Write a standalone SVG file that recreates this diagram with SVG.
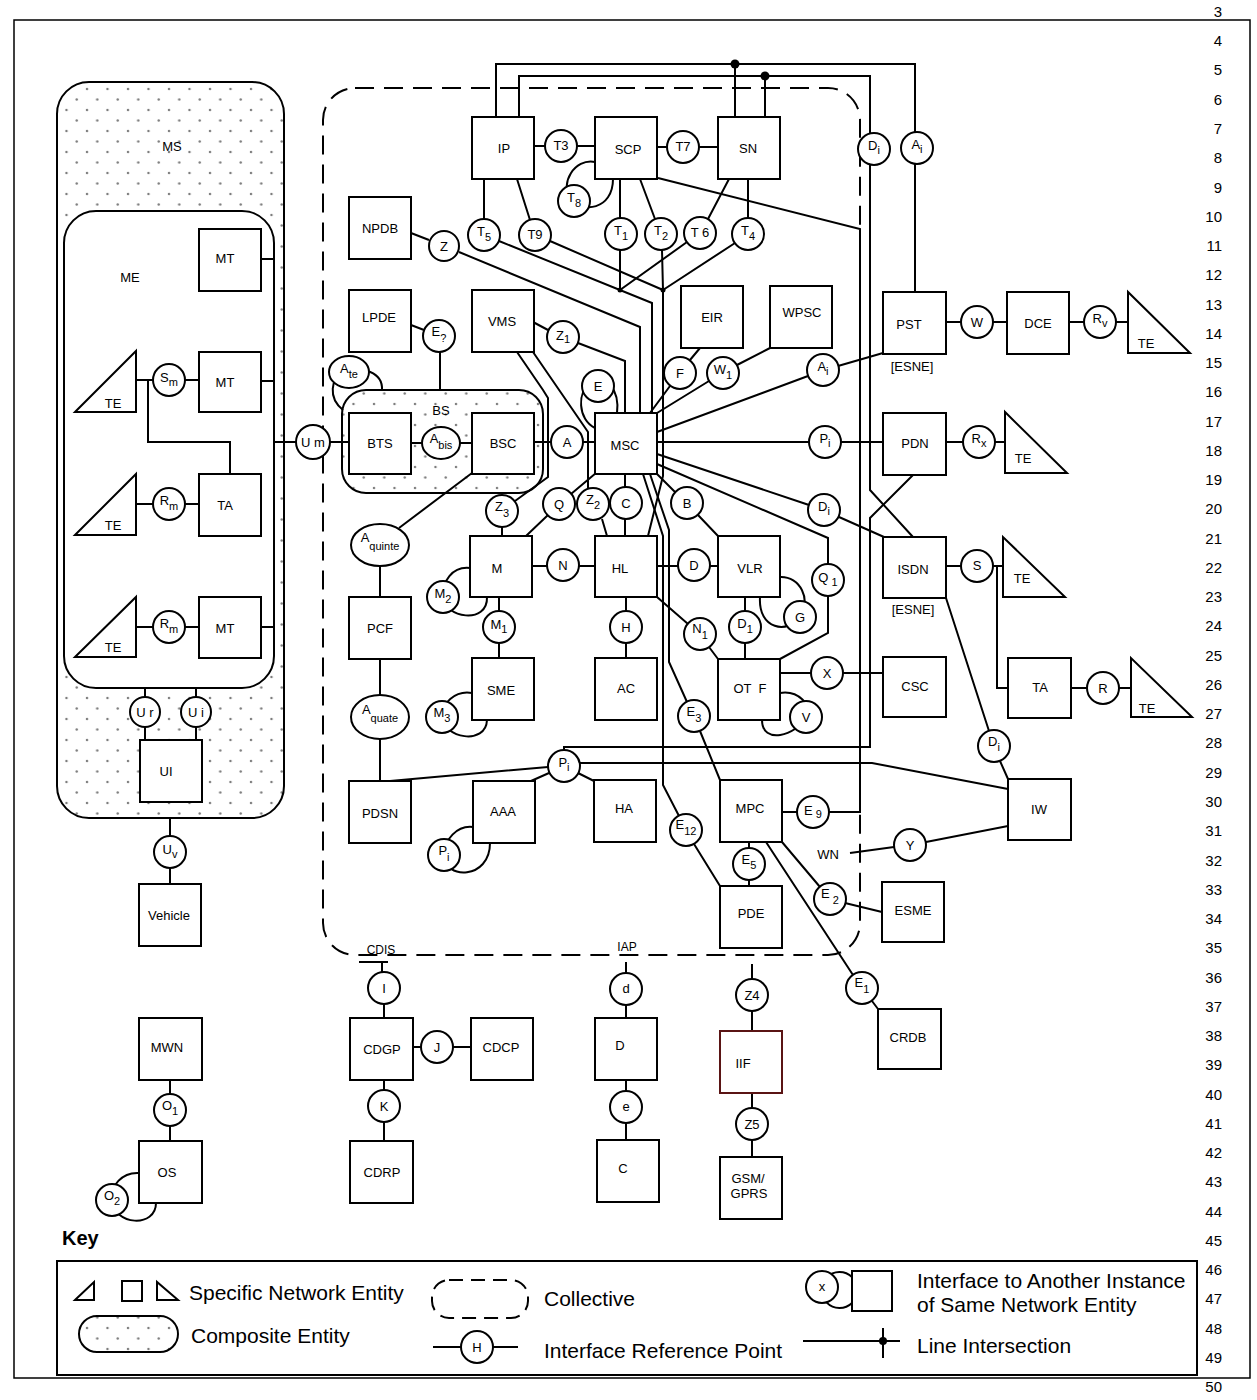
<svg xmlns="http://www.w3.org/2000/svg" width="1257" height="1400" viewBox="0 0 1257 1400">
<defs>
<pattern id="dots" width="20.5" height="21" patternUnits="userSpaceOnUse">
<circle cx="5" cy="5" r="1.2" fill="#7a7a7a"/>
<circle cx="15.25" cy="15.5" r="1.2" fill="#7a7a7a"/>
</pattern>
</defs>
<style>
.b{fill:#fff;stroke:#000;stroke-width:2}
.l{fill:none;stroke:#000;stroke-width:2}
.cmp{fill:url(#dots);stroke:#000;stroke-width:2}
.dash{fill:none;stroke:#000;stroke-width:2;stroke-dasharray:19 10}
text{font-family:"Liberation Sans",Arial,Helvetica,sans-serif;font-size:13px;fill:#000}
.t{text-anchor:middle}
.s{font-size:11px}
.sm{font-size:12px}
.n{font-size:15px;text-anchor:end}
.k{font-size:21px}
.key{font-size:20px;font-weight:bold}
</style>
<rect width="1257" height="1400" fill="#fff"/>
<rect x="14" y="20" width="1236" height="1358" fill="none" stroke="#000" stroke-width="1.5"/>
<g id="line-numbers">
<text class="n" x="1222" y="17">3</text><text class="n" x="1222" y="46">4</text><text class="n" x="1222" y="75">5</text><text class="n" x="1222" y="105">6</text><text class="n" x="1222" y="134">7</text><text class="n" x="1222" y="163">8</text><text class="n" x="1222" y="193">9</text><text class="n" x="1222" y="222">10</text><text class="n" x="1222" y="251">11</text><text class="n" x="1222" y="280">12</text><text class="n" x="1222" y="310">13</text><text class="n" x="1222" y="339">14</text><text class="n" x="1222" y="368">15</text><text class="n" x="1222" y="397">16</text><text class="n" x="1222" y="427">17</text><text class="n" x="1222" y="456">18</text><text class="n" x="1222" y="485">19</text><text class="n" x="1222" y="514">20</text><text class="n" x="1222" y="544">21</text><text class="n" x="1222" y="573">22</text><text class="n" x="1222" y="602">23</text><text class="n" x="1222" y="631">24</text><text class="n" x="1222" y="661">25</text><text class="n" x="1222" y="690">26</text><text class="n" x="1222" y="719">27</text><text class="n" x="1222" y="748">28</text><text class="n" x="1222" y="778">29</text><text class="n" x="1222" y="807">30</text><text class="n" x="1222" y="836">31</text><text class="n" x="1222" y="866">32</text><text class="n" x="1222" y="895">33</text><text class="n" x="1222" y="924">34</text><text class="n" x="1222" y="953">35</text><text class="n" x="1222" y="983">36</text><text class="n" x="1222" y="1012">37</text><text class="n" x="1222" y="1041">38</text><text class="n" x="1222" y="1070">39</text><text class="n" x="1222" y="1100">40</text><text class="n" x="1222" y="1129">41</text><text class="n" x="1222" y="1158">42</text><text class="n" x="1222" y="1187">43</text><text class="n" x="1222" y="1217">44</text><text class="n" x="1222" y="1246">45</text><text class="n" x="1222" y="1275">46</text><text class="n" x="1222" y="1304">47</text><text class="n" x="1222" y="1334">48</text><text class="n" x="1222" y="1363">49</text><text class="n" x="1222" y="1392">50</text>
</g>
<g id="collective">
<rect x="323" y="88" width="537" height="867" rx="32" class="dash"/>
<text class="t sm" x="381" y="954">CDIS</text>
<text class="t sm" x="627" y="951">IAP</text>
</g>
<g id="MS">
<rect x="57" y="82" width="227" height="736" rx="32" class="cmp"/>
<text class="t" x="172" y="151">MS</text>
</g>
<g id="ME">
<rect x="64" y="211" width="210" height="477" rx="32" class="b"/>
<text class="t" x="130" y="282">ME</text>
</g>
<g id="BS">
<rect x="342" y="390" width="201" height="103" rx="24" class="cmp"/>
<text class="t" x="441" y="415">BS</text>
</g>
<g id="connectors" class="l">
<path d="M261,259 H274 M261,381 H274 M261,627 H274"/>
<path d="M136,380 H153 M185,380 H199 M148,380 V442 H230 V474"/>
<path d="M136,504 H153 M185,504 H199 M136,627 H153 M185,627 H199"/>
<path d="M145,688 V697 M145,727 V740 M196,688 V697 M196,727 V740"/>
<path d="M170,818 V836 M170,868 V884"/>
<path d="M274,442 H296 M330,442 H349"/>
<path d="M496,117 V64 H915 V132 M915,164 V292"/>
<path d="M519,117 V76 H870 V134 M870,165 V490 L913,537"/>
<path d="M735,117 V64 M765,117 V76"/>
<path d="M535,146 H545 M577,146 H595 M658,147 H667 M699,147 H718"/>
<path d="M595,162 C574,158 560,184 570,198 C582,214 613,210 613,179"/>
<path d="M484,179 V219 M499,241 L652,303 V413"/>
<path d="M517,179 L530,220 M550,241 L663,290 V476 L648,536"/>
<path d="M620,179 V218 M620,250 V290"/>
<path d="M640,179 L655,219 M662,250 L663,290"/>
<path d="M729,179 L708,219 M687,242 L620,290"/>
<path d="M748,179 V218 M735,243 L663,290"/>
<path d="M658,178 L860,229 V812 H829 M782,812 H797"/>
<path d="M411,233 L429,240 M459,252 L640,327 V413"/>
<path d="M533,322 L548,330 M578,343 L625,361 V413"/>
<path d="M411,325 L424,330 M440,352 V390"/>
<path d="M517,352 L543,390 L548,398 V477 L515,501 M502,527 V536"/>
<path d="M533,352 L588,432 V489 M602,519 L607,536"/>
<path d="M595,428 C578,420 576,392 592,380 C605,372 620,390 617,413"/>
<path d="M533,442 H551 M583,442 H595 M411,443 H422 M460,443 H472"/>
<path d="M343,410 C328,398 330,378 345,372 C362,366 383,372 382,390"/>
<path d="M700,348 L690,360 M670,386 L650,413"/>
<path d="M770,348 L737,365 M709,381 L657,413"/>
<path d="M657,432 L808,376 M838,366 L883,353"/>
<path d="M657,442 H809 M841,442 H883"/>
<path d="M657,454 L809,505 M839,517 L884,537"/>
<path d="M657,464 L828,538 V564 M828,596 V633 L780,659"/>
<path d="M596,473 L571,494 M548,515 L526,536"/>
<path d="M625,474 V487 M625,519 V536"/>
<path d="M657,474 L675,492 M698,515 L718,536"/>
<path d="M643,474 L663,536 V785 L679,816 M694,844 L720,886"/>
<path d="M650,474 L669,530 V662 L687,702 M700,731 L720,780"/>
<path d="M946,322 H961 M993,322 H1007 M1069,322 H1084 M1116,322 H1128"/>
<path d="M946,442 H963 M995,442 H1005"/>
<path d="M946,566 H961 M993,566 H1003 M997,566 V688 H1008 M1071,688 H1087 M1119,688 H1131"/>
<path d="M913,475 L870,518 V747 H564 V750"/>
<path d="M580,763 H872 L1008,789"/>
<path d="M390,781 L548,767 M549,773 L531,781 M578,773 L594,781"/>
<path d="M472,473 L399,528 M380,566 V597 M380,659 V695 M380,739 V781"/>
<path d="M532,566 H547 M579,566 H595 M657,566 H678 M710,566 H718"/>
<path d="M626,597 V611 M626,643 V658 M499,597 V611 M499,643 V658"/>
<path d="M657,597 L688,624 M709,647 L718,659 M745,597 V611 M745,643 V659"/>
<path d="M780,673 H811 M843,673 H883"/>
<path d="M470,568 C452,566 442,582 443,597 C444,618 488,625 487,597"/>
<path d="M472,693 C455,690 441,704 442,717 C443,738 486,746 487,720"/>
<path d="M780,577 C800,576 812,600 800,617 C788,634 758,630 760,597"/>
<path d="M780,693 C798,690 814,706 806,717 C796,736 762,745 762,720"/>
<path d="M473,827 C457,825 444,840 444,855 C444,880 490,880 490,843"/>
<path d="M749,842 V848 M749,880 V886"/>
<path d="M782,842 L820,887 M845,903 L882,912"/>
<path d="M766,842 L853,975 M872,1001 L878,1009"/>
<path d="M850,853 L894,847 M926,842 L1008,826"/>
<path d="M946,598 L989,731 M1000,761 L1008,779"/>
<path d="M359,962 H388 M382,962 V972 M384,1004 V1018"/>
<path d="M413,1047 H421 M453,1047 H471 M384,1080 V1090 M384,1122 V1141"/>
<path d="M626,962 V973 M626,1005 V1018 M626,1080 V1091 M626,1123 V1140"/>
<path d="M752,964 V979 M752,1011 V1031 M752,1093 V1108 M752,1140 V1157"/>
<path d="M170,1080 V1094 M170,1126 V1141"/>
<path d="M139,1173 C122,1172 110,1186 112,1200 C114,1226 156,1228 156,1203"/>
<circle cx="735" cy="64" r="4.5" fill="#000" stroke="none"/>
<circle cx="765" cy="76" r="4.5" fill="#000" stroke="none"/>
<circle cx="620" cy="290" r="2.5" fill="#000" stroke="none"/>
<circle cx="663" cy="290" r="2.5" fill="#000" stroke="none"/>
</g>
<g id="MT1"><rect class="b" x="199" y="229" width="62" height="62"/><text class="t" x="225" y="263">MT</text></g>
<g id="TE1"><polygon class="b" points="75,412 136,351 136,412"/><text class="t" x="113" y="408">TE</text></g>
<g id="MT2"><rect class="b" x="199" y="352" width="62" height="60"/><text class="t" x="225" y="387">MT</text></g>
<g id="TE2"><polygon class="b" points="75,535 136,474 136,535"/><text class="t" x="113" y="530">TE</text></g>
<g id="TA1"><rect class="b" x="199" y="474" width="62" height="62"/><text class="t" x="225" y="510">TA</text></g>
<g id="TE3"><polygon class="b" points="75,657 136,597 136,657"/><text class="t" x="113" y="652">TE</text></g>
<g id="MT3"><rect class="b" x="199" y="597" width="62" height="61"/><text class="t" x="225" y="633">MT</text></g>
<g id="UI"><rect class="b" x="140" y="740" width="62" height="62"/><text class="t" x="166" y="776">UI</text></g>
<g id="Vehicle"><rect class="b" x="139" y="884" width="62" height="62"/><text class="t" x="169" y="920">Vehicle</text></g>
<g id="IP"><rect class="b" x="472" y="117" width="62" height="62"/><text class="t" x="504" y="153">IP</text></g>
<g id="SCP"><rect class="b" x="595" y="117" width="62" height="62"/><text class="t" x="628" y="154">SCP</text></g>
<g id="SN"><rect class="b" x="718" y="117" width="62" height="62"/><text class="t" x="748" y="153">SN</text></g>
<g id="NPDB"><rect class="b" x="349" y="197" width="62" height="62"/><text class="t" x="380" y="233">NPDB</text></g>
<g id="LPDE"><rect class="b" x="349" y="290" width="62" height="62"/><text class="t" x="379" y="322">LPDE</text></g>
<g id="VMS"><rect class="b" x="472" y="290" width="62" height="62"/><text class="t" x="502" y="326">VMS</text></g>
<g id="EIR"><rect class="b" x="681" y="286" width="62" height="62"/><text class="t" x="712" y="322">EIR</text></g>
<g id="WPSC"><rect class="b" x="770" y="286" width="62" height="62"/><text class="t" x="802" y="317">WPSC</text></g>
<g id="PST"><rect class="b" x="883" y="292" width="63" height="62"/><text class="t" x="909" y="329">PST</text><text class="t" x="912" y="371">[ESNE]</text></g>
<g id="DCE"><rect class="b" x="1007" y="292" width="62" height="62"/><text class="t" x="1038" y="328">DCE</text></g>
<g id="TE4"><polygon class="b" points="1128,292 1128,353 1190,353"/><text class="t" x="1146" y="348">TE</text></g>
<g id="BTS"><rect class="b" x="349" y="413" width="62" height="61"/><text class="t" x="380" y="448">BTS</text></g>
<g id="BSC"><rect class="b" x="472" y="413" width="62" height="61"/><text class="t" x="503" y="448">BSC</text></g>
<g id="MSC"><rect class="b" x="595" y="413" width="62" height="61"/><text class="t" x="625" y="450">MSC</text></g>
<g id="PDN"><rect class="b" x="883" y="413" width="63" height="62"/><text class="t" x="915" y="448">PDN</text></g>
<g id="TE5"><polygon class="b" points="1005,412 1005,473 1067,473"/><text class="t" x="1023" y="463">TE</text></g>
<g id="M"><rect class="b" x="470" y="536" width="62" height="61"/><text class="t" x="497" y="573">M</text></g>
<g id="HL"><rect class="b" x="595" y="536" width="62" height="61"/><text class="t" x="620" y="573">HL</text></g>
<g id="VLR"><rect class="b" x="718" y="536" width="62" height="61"/><text class="t" x="750" y="573">VLR</text></g>
<g id="ISDN"><rect class="b" x="883" y="537" width="63" height="61"/><text class="t" x="913" y="574">ISDN</text><text class="t" x="913" y="614">[ESNE]</text></g>
<g id="TE6"><polygon class="b" points="1003,537 1003,597 1065,597"/><text class="t" x="1022" y="583">TE</text></g>
<g id="PCF"><rect class="b" x="349" y="597" width="62" height="62"/><text class="t" x="380" y="633">PCF</text></g>
<g id="SME"><rect class="b" x="472" y="658" width="62" height="62"/><text class="t" x="501" y="695">SME</text></g>
<g id="AC"><rect class="b" x="595" y="658" width="62" height="62"/><text class="t" x="626" y="693">AC</text></g>
<g id="OTF"><rect class="b" x="718" y="659" width="62" height="61"/><text class="t" x="750" y="693" xml:space="preserve">OT  F</text></g>
<g id="CSC"><rect class="b" x="883" y="657" width="63" height="60"/><text class="t" x="915" y="691">CSC</text></g>
<g id="TA2"><rect class="b" x="1008" y="658" width="63" height="60"/><text class="t" x="1040" y="692">TA</text></g>
<g id="TE7"><polygon class="b" points="1131,658 1131,717 1192,717"/><text class="t" x="1147" y="713">TE</text></g>
<g id="PDSN"><rect class="b" x="349" y="781" width="62" height="62"/><text class="t" x="380" y="818">PDSN</text></g>
<g id="AAA"><rect class="b" x="473" y="781" width="62" height="62"/><text class="t" x="503" y="816">AAA</text></g>
<g id="HA"><rect class="b" x="594" y="780" width="62" height="62"/><text class="t" x="624" y="813">HA</text></g>
<g id="MPC"><rect class="b" x="720" y="780" width="62" height="62"/><text class="t" x="750" y="813">MPC</text></g>
<g id="IW"><rect class="b" x="1008" y="779" width="63" height="61"/><text class="t" x="1039" y="814">IW</text></g>
<g id="WN"><text class="t" x="828" y="859">WN</text></g>
<g id="ESME"><rect class="b" x="882" y="882" width="62" height="60"/><text class="t" x="913" y="915">ESME</text></g>
<g id="PDE"><rect class="b" x="720" y="886" width="62" height="62"/><text class="t" x="751" y="918">PDE</text></g>
<g id="MWN"><rect class="b" x="139" y="1018" width="63" height="62"/><text class="t" x="167" y="1052">MWN</text></g>
<g id="CDGP"><rect class="b" x="350" y="1018" width="63" height="62"/><text class="t" x="382" y="1054">CDGP</text></g>
<g id="CDCP"><rect class="b" x="471" y="1018" width="62" height="62"/><text class="t" x="501" y="1052">CDCP</text></g>
<g id="D-node"><rect class="b" x="595" y="1018" width="62" height="62"/><text class="t" x="620" y="1050">D</text></g>
<g id="IIF"><rect x="720" y="1031" width="62" height="62" fill="#fff" stroke="#5a1414" stroke-width="2"/><text class="t" x="743" y="1068">IIF</text></g>
<g id="CRDB"><rect class="b" x="878" y="1009" width="63" height="60"/><text class="t" x="908" y="1042">CRDB</text></g>
<g id="OS"><rect class="b" x="139" y="1141" width="63" height="62"/><text class="t" x="167" y="1177">OS</text></g>
<g id="CDRP"><rect class="b" x="350" y="1141" width="63" height="62"/><text class="t" x="382" y="1177">CDRP</text></g>
<g id="C-node"><rect class="b" x="597" y="1140" width="62" height="62"/><text class="t" x="623" y="1173">C</text></g>
<g id="GSM-GPRS"><rect class="b" x="720" y="1157" width="62" height="62"/><text class="t" x="748" y="1183">GSM/</text><text class="t" x="749" y="1198">GPRS</text></g>
<g id="if-Um"><circle class="b" cx="313" cy="442" r="17"/><text class="t" x="313" y="447">U m</text></g>
<g id="if-Sm"><circle class="b" cx="169" cy="380" r="16"/><text class="t" x="169" y="382">S<tspan class="s" dy="4">m</tspan></text></g>
<g id="if-Rm1"><circle class="b" cx="169" cy="504" r="16"/><text class="t" x="169" y="505">R<tspan class="s" dy="5">m</tspan></text></g>
<g id="if-Rm2"><circle class="b" cx="169" cy="627" r="16"/><text class="t" x="169" y="628">R<tspan class="s" dy="5">m</tspan></text></g>
<g id="if-Ur"><circle class="b" cx="145" cy="712" r="15"/><text class="t" x="145" y="717">U r</text></g>
<g id="if-Ui"><circle class="b" cx="196" cy="712" r="15"/><text class="t" x="196" y="717">U i</text></g>
<g id="if-Uv"><circle class="b" cx="170" cy="852" r="16"/><text class="t" x="170" y="854">U<tspan class="s" dy="4">v</tspan></text></g>
<g id="if-T3"><circle class="b" cx="561" cy="146" r="16"/><text class="t" x="561" y="150">T3</text></g>
<g id="if-T7"><circle class="b" cx="683" cy="147" r="16"/><text class="t" x="683" y="151">T7</text></g>
<g id="if-T8"><circle class="b" cx="574" cy="201" r="16"/><text class="t" x="574" y="202">T<tspan class="s" dy="5">8</tspan></text></g>
<g id="if-T5"><circle class="b" cx="484" cy="235" r="16"/><text class="t" x="484" y="236">T<tspan class="s" dy="5">5</tspan></text></g>
<g id="if-T9"><circle class="b" cx="535" cy="235" r="16"/><text class="t" x="535" y="239">T9</text></g>
<g id="if-T1"><circle class="b" cx="621" cy="234" r="16"/><text class="t" x="621" y="235">T<tspan class="s" dy="5">1</tspan></text></g>
<g id="if-T2"><circle class="b" cx="661" cy="234" r="16"/><text class="t" x="661" y="235">T<tspan class="s" dy="5">2</tspan></text></g>
<g id="if-T6"><circle class="b" cx="700" cy="233" r="16"/><text class="t" x="700" y="237">T 6</text></g>
<g id="if-T4"><circle class="b" cx="748" cy="234" r="16"/><text class="t" x="748" y="235">T<tspan class="s" dy="5">4</tspan></text></g>
<g id="if-Di1"><circle class="b" cx="874" cy="149" r="16"/><text class="t" x="874" y="150">D<tspan class="s" dy="4">i</tspan></text></g>
<g id="if-Ai1"><circle class="b" cx="917" cy="148" r="16"/><text class="t" x="917" y="149">A<tspan class="s" dy="4">i</tspan></text></g>
<g id="if-Z"><circle class="b" cx="444" cy="246" r="15"/><text class="t" x="444" y="251">Z</text></g>
<g id="if-Eq"><circle class="b" cx="439" cy="336" r="16"/><text class="t" x="439" y="336">E<tspan class="s" dy="6">?</tspan></text></g>
<g id="if-Z1"><circle class="b" cx="563" cy="337" r="16"/><text class="t" x="563" y="340">Z<tspan class="s" dy="3">1</tspan></text></g>
<g id="if-Ate"><ellipse class="b" cx="349" cy="372" rx="20" ry="16"/><text class="t" x="349" y="373">A<tspan class="s" dy="5">te</tspan></text></g>
<g id="if-Abis"><ellipse class="b" cx="441" cy="443" rx="19" ry="16"/><text class="t" x="441" y="443">A<tspan class="s" dy="6">bis</tspan></text></g>
<g id="if-A"><circle class="b" cx="567" cy="442" r="16"/><text class="t" x="567" y="447">A</text></g>
<g id="if-E"><circle class="b" cx="598" cy="386" r="16"/><text class="t" x="598" y="391">E</text></g>
<g id="if-F"><circle class="b" cx="680" cy="373" r="16"/><text class="t" x="680" y="378">F</text></g>
<g id="if-W1"><circle class="b" cx="723" cy="373" r="16"/><text class="t" x="723" y="374">W<tspan class="s" dy="5">1</tspan></text></g>
<g id="if-Ai2"><circle class="b" cx="823" cy="370" r="16"/><text class="t" x="823" y="371">A<tspan class="s" dy="4">i</tspan></text></g>
<g id="if-Pi1"><circle class="b" cx="825" cy="442" r="16"/><text class="t" x="825" y="443">P<tspan class="s" dy="4">i</tspan></text></g>
<g id="if-Di2"><circle class="b" cx="824" cy="510" r="16"/><text class="t" x="824" y="511">D<tspan class="s" dy="4">i</tspan></text></g>
<g id="if-Q1"><circle class="b" cx="828" cy="580" r="16"/><text class="t" x="828" y="582" xml:space="preserve">Q<tspan class="s" dy="4"> 1</tspan></text></g>
<g id="if-Z3"><circle class="b" cx="502" cy="511" r="16"/><text class="t" x="502" y="511">Z<tspan class="s" dy="6">3</tspan></text></g>
<g id="if-Q"><circle class="b" cx="559" cy="504" r="16"/><text class="t" x="559" y="509">Q</text></g>
<g id="if-Z2"><circle class="b" cx="593" cy="504" r="16"/><text class="t" x="593" y="504">Z<tspan class="s" dy="5">2</tspan></text></g>
<g id="if-C"><circle class="b" cx="626" cy="503" r="16"/><text class="t" x="626" y="508">C</text></g>
<g id="if-B"><circle class="b" cx="687" cy="503" r="16"/><text class="t" x="687" y="508">B</text></g>
<g id="if-N"><circle class="b" cx="563" cy="565" r="16"/><text class="t" x="563" y="570">N</text></g>
<g id="if-D"><circle class="b" cx="694" cy="565" r="16"/><text class="t" x="694" y="570">D</text></g>
<g id="if-M2"><circle class="b" cx="443" cy="597" r="16"/><text class="t" x="443" y="598">M<tspan class="s" dy="5">2</tspan></text></g>
<g id="if-M1"><circle class="b" cx="499" cy="627" r="16"/><text class="t" x="499" y="629">M<tspan class="s" dy="4">1</tspan></text></g>
<g id="if-H"><circle class="b" cx="626" cy="627" r="16"/><text class="t" x="626" y="632">H</text></g>
<g id="if-N1"><circle class="b" cx="700" cy="634" r="16"/><text class="t" x="700" y="633">N<tspan class="s" dy="6">1</tspan></text></g>
<g id="if-D1"><circle class="b" cx="745" cy="627" r="16"/><text class="t" x="745" y="628">D<tspan class="s" dy="5">1</tspan></text></g>
<g id="if-G"><circle class="b" cx="800" cy="617" r="16"/><text class="t" x="800" y="622">G</text></g>
<g id="if-X"><circle class="b" cx="827" cy="673" r="16"/><text class="t" x="827" y="678">X</text></g>
<g id="if-V"><circle class="b" cx="806" cy="717" r="16"/><text class="t" x="806" y="722">V</text></g>
<g id="if-M3"><circle class="b" cx="442" cy="717" r="16"/><text class="t" x="442" y="717">M<tspan class="s" dy="5">3</tspan></text></g>
<g id="if-E3"><circle class="b" cx="694" cy="716" r="16"/><text class="t" x="694" y="716">E<tspan class="s" dy="6">3</tspan></text></g>
<g id="if-Aquinte"><ellipse class="b" cx="380" cy="545" rx="29" ry="21"/><text class="t" x="380" y="542">A<tspan class="s" dy="8">quinte</tspan></text></g>
<g id="if-Aquate"><ellipse class="b" cx="380" cy="717" rx="29" ry="22"/><text class="t" x="380" y="714">A<tspan class="s" dy="8">quate</tspan></text></g>
<g id="if-Pi2"><circle class="b" cx="564" cy="766" r="16"/><text class="t" x="564" y="767">P<tspan class="s" dy="4">i</tspan></text></g>
<g id="if-Pi3"><circle class="b" cx="444" cy="855" r="16"/><text class="t" x="444" y="855">P<tspan class="s" dy="6">i</tspan></text></g>
<g id="if-E12"><circle class="b" cx="686" cy="830" r="16"/><text class="t" x="686" y="829">E<tspan class="s" dy="6">12</tspan></text></g>
<g id="if-E9"><circle class="b" cx="813" cy="812" r="16"/><text class="t" x="813" y="815" xml:space="preserve">E<tspan class="s" dy="3"> 9</tspan></text></g>
<g id="if-E5"><circle class="b" cx="749" cy="864" r="16"/><text class="t" x="749" y="864">E<tspan class="s" dy="5">5</tspan></text></g>
<g id="if-Y"><circle class="b" cx="910" cy="845" r="16"/><text class="t" x="910" y="850">Y</text></g>
<g id="if-E2"><circle class="b" cx="830" cy="899" r="16"/><text class="t" x="830" y="898" xml:space="preserve">E<tspan class="s" dy="6"> 2</tspan></text></g>
<g id="if-Di3"><circle class="b" cx="994" cy="746" r="16"/><text class="t" x="994" y="746">D<tspan class="s" dy="5">i</tspan></text></g>
<g id="if-W"><circle class="b" cx="977" cy="322" r="16"/><text class="t" x="977" y="327">W</text></g>
<g id="if-Rv"><circle class="b" cx="1100" cy="322" r="16"/><text class="t" x="1100" y="323">R<tspan class="s" dy="4">v</tspan></text></g>
<g id="if-Rx"><circle class="b" cx="979" cy="442" r="16"/><text class="t" x="979" y="443">R<tspan class="s" dy="4">x</tspan></text></g>
<g id="if-S"><circle class="b" cx="977" cy="566" r="16"/><text class="t" x="977" y="570">S</text></g>
<g id="if-R"><circle class="b" cx="1103" cy="688" r="16"/><text class="t" x="1103" y="693">R</text></g>
<g id="if-I"><circle class="b" cx="384" cy="988" r="16"/><text class="t" x="384" y="993">I</text></g>
<g id="if-d"><circle class="b" cx="626" cy="989" r="16"/><text class="t" x="626" y="993">d</text></g>
<g id="if-Z4"><circle class="b" cx="752" cy="995" r="16"/><text class="t" x="752" y="1000">Z4</text></g>
<g id="if-E1"><circle class="b" cx="862" cy="988" r="16"/><text class="t" x="862" y="987">E<tspan class="s" dy="6">1</tspan></text></g>
<g id="if-J"><circle class="b" cx="437" cy="1047" r="16"/><text class="t" x="437" y="1052">J</text></g>
<g id="if-K"><circle class="b" cx="384" cy="1106" r="16"/><text class="t" x="384" y="1111">K</text></g>
<g id="if-e"><circle class="b" cx="626" cy="1107" r="16"/><text class="t" x="626" y="1111">e</text></g>
<g id="if-Z5"><circle class="b" cx="752" cy="1124" r="16"/><text class="t" x="752" y="1129">Z5</text></g>
<g id="if-O1"><circle class="b" cx="170" cy="1110" r="16"/><text class="t" x="170" y="1110">O<tspan class="s" dy="5">1</tspan></text></g>
<g id="if-O2"><circle class="b" cx="112" cy="1200" r="16"/><text class="t" x="112" y="1200">O<tspan class="s" dy="5">2</tspan></text></g>
<g id="key">
<text class="key" x="62" y="1245">Key</text>
<rect x="57" y="1261" width="1140" height="114" fill="none" stroke="#000" stroke-width="2"/>
<polygon class="b" points="75,1300 94,1282 94,1300"/>
<rect class="b" x="122" y="1281" width="20" height="20"/>
<polygon class="b" points="157,1282 157,1300 178,1300"/>
<text class="k" x="189" y="1300">Specific Network Entity</text>
<rect x="79" y="1316" width="99" height="36" rx="18" class="cmp"/>
<text class="k" x="191" y="1343">Composite Entity</text>
<rect x="432" y="1280" width="96" height="38" rx="17" fill="none" stroke="#000" stroke-width="2" stroke-dasharray="14 8"/>
<text class="k" x="544" y="1306">Collective</text>
<path class="l" d="M433,1347 H461 M493,1347 H518"/>
<circle class="b" cx="477" cy="1347" r="16"/>
<text class="t" x="477" y="1352">H</text>
<text class="k" x="544" y="1358">Interface Reference Point</text>
<path class="l" d="M852,1277 A18,18 0 1,0 852,1303"/>
<circle class="b" cx="822" cy="1287" r="16"/>
<text class="t" x="822" y="1291">x</text>
<rect class="b" x="852" y="1271" width="40" height="40"/>
<text class="k" x="917" y="1288">Interface to Another Instance</text>
<text class="k" x="917" y="1312">of Same Network Entity</text>
<path class="l" d="M803,1341 H900 M883,1328 V1358"/>
<circle cx="883" cy="1341" r="4" fill="#000"/>
<text class="k" x="917" y="1353">Line Intersection</text>
</g>
</svg>
